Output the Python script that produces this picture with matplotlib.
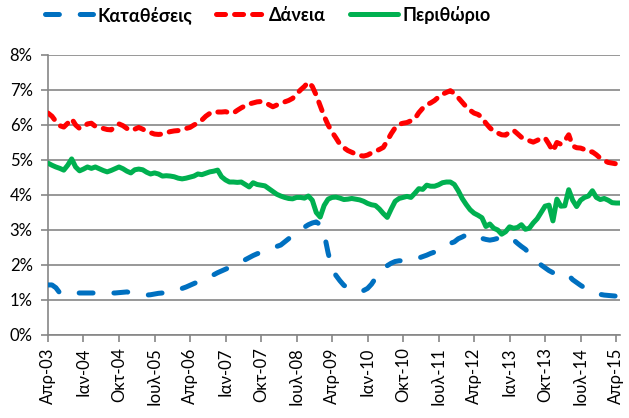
import matplotlib
matplotlib.use('Agg')
import matplotlib.pyplot as plt
import numpy as np

plt.rcParams['font.family'] = ['Lato', 'DejaVu Sans']
plt.rcParams['lines.scale_dashes'] = False

# monthly values, Apr-03 .. May-15 (%)
deposits = [
    1.43, 1.43, 1.35, 1.20, 1.19, 1.19, 1.20, 1.20, 1.20, 1.20,
    1.20, 1.20, 1.20, 1.20, 1.20, 1.20, 1.20, 1.20, 1.21, 1.22,
    1.23, 1.21, 1.19, 1.17, 1.15, 1.14, 1.15, 1.17, 1.19, 1.20,
    1.21, 1.24, 1.27, 1.30, 1.33, 1.37, 1.42, 1.47, 1.52, 1.57,
    1.60, 1.65, 1.72, 1.78, 1.83, 1.88, 1.93, 1.98, 2.03, 2.09,
    2.15, 2.21, 2.27, 2.32, 2.36, 2.40, 2.44, 2.48, 2.53, 2.57,
    2.66, 2.75, 2.85, 2.93, 3.00, 3.08, 3.15, 3.20, 3.23, 3.15,
    2.90, 2.35, 1.90, 1.70, 1.55, 1.42, 1.35, 1.30, 1.26, 1.23,
    1.27, 1.33, 1.45, 1.62, 1.78, 1.88, 1.98, 2.05, 2.10, 2.12,
    2.12, 2.14, 2.15, 2.17, 2.20, 2.24, 2.28, 2.33, 2.37, 2.42,
    2.48, 2.55, 2.62, 2.66, 2.75, 2.80, 2.86, 2.90, 2.88, 2.82,
    2.76, 2.73, 2.71, 2.73, 2.76, 2.79, 2.83, 2.80, 2.72, 2.62,
    2.53, 2.45, 2.33, 2.22, 2.10, 2.00, 1.92, 1.84, 1.78, 1.74,
    1.76, 1.77, 1.70, 1.58, 1.50, 1.42, 1.35, 1.28, 1.23, 1.19,
    1.16, 1.14, 1.13, 1.12, 1.11, 1.11,
]
loans = [
    6.34, 6.25, 6.10, 5.98, 5.94, 6.05, 6.18, 6.00, 5.90, 5.95,
    6.03, 6.05, 5.96, 5.93, 5.90, 5.87, 5.86, 5.95, 6.03, 5.98,
    5.90, 5.84, 5.88, 5.93, 5.88, 5.82, 5.78, 5.74, 5.73, 5.74,
    5.78, 5.81, 5.83, 5.84, 5.88, 5.90, 5.93, 6.00, 6.06, 6.14,
    6.25, 6.33, 6.38, 6.37, 6.37, 6.38, 6.35, 6.34, 6.42, 6.49,
    6.55, 6.60, 6.63, 6.66, 6.67, 6.64, 6.58, 6.52, 6.57, 6.62,
    6.66, 6.70, 6.76, 6.88, 7.00, 7.10, 7.23, 7.10, 6.85, 6.55,
    6.25, 6.00, 5.80, 5.63, 5.45, 5.35, 5.27, 5.22, 5.17, 5.13,
    5.11, 5.14, 5.20, 5.25, 5.30, 5.36, 5.55, 5.75, 5.92, 6.02,
    6.05, 6.07, 6.12, 6.18, 6.35, 6.48, 6.58, 6.63, 6.70, 6.80,
    6.88, 6.93, 6.98, 6.90, 6.78, 6.65, 6.52, 6.42, 6.34, 6.30,
    6.22, 6.05, 5.92, 5.82, 5.77, 5.72, 5.71, 5.80, 5.85, 5.75,
    5.65, 5.60, 5.55, 5.51, 5.56, 5.62, 5.63, 5.45, 5.25, 5.50,
    5.45, 5.55, 5.72, 5.40, 5.35, 5.34, 5.30, 5.24, 5.23, 5.15,
    5.05, 4.98, 4.93, 4.91, 4.89, 4.89,
]
margin = [
    4.91, 4.85, 4.80, 4.76, 4.71, 4.85, 5.03, 4.80, 4.69, 4.74,
    4.80, 4.76, 4.80, 4.75, 4.70, 4.66, 4.70, 4.75, 4.80, 4.75,
    4.68, 4.63, 4.72, 4.74, 4.72, 4.65, 4.60, 4.63, 4.60, 4.54,
    4.55, 4.54, 4.52, 4.48, 4.46, 4.48, 4.51, 4.54, 4.60, 4.58,
    4.62, 4.66, 4.68, 4.71, 4.52, 4.43, 4.37, 4.37, 4.36, 4.37,
    4.30, 4.23, 4.35, 4.30, 4.28, 4.26, 4.18, 4.10, 4.02, 3.97,
    3.93, 3.90, 3.89, 3.93, 3.93, 3.91, 3.97, 3.85, 3.50, 3.37,
    3.70, 3.88, 3.93, 3.94, 3.91, 3.87, 3.88, 3.90, 3.88, 3.86,
    3.82, 3.76, 3.72, 3.70, 3.60, 3.47, 3.36, 3.60, 3.82, 3.90,
    3.93, 3.96, 3.93, 4.05, 4.18, 4.16, 4.28, 4.25, 4.25, 4.29,
    4.35, 4.37, 4.37, 4.30, 4.12, 3.90, 3.73, 3.58, 3.48, 3.42,
    3.35, 3.10, 3.17, 3.05, 3.00, 2.88, 2.95, 3.09, 3.05, 3.07,
    3.15, 3.02, 3.05, 3.20, 3.32, 3.50, 3.68, 3.71, 3.26, 3.88,
    3.68, 3.69, 4.15, 3.85, 3.67, 3.85, 3.93, 3.97, 4.12, 3.93,
    3.87, 3.90, 3.85, 3.78, 3.77, 3.77,
]
tick_labels = ['Απρ-03', 'Ιαν-04', 'Οκτ-04', 'Ιουλ-05', 'Απρ-06', 'Ιαν-07',
               'Οκτ-07', 'Ιουλ-08', 'Απρ-09', 'Ιαν-10', 'Οκτ-10', 'Ιουλ-11',
               'Απρ-12', 'Ιαν-13', 'Οκτ-13', 'Ιουλ-14', 'Απρ-15']

months = np.arange(len(deposits))

fig = plt.figure(figsize=(6.29, 4.18), dpi=100)
ax = fig.add_axes([0.0763, 0.1986, 0.9094, 0.6699])

lw = 3.6
ax.plot(months, deposits, color='#0070C0', lw=lw, dashes=(10, 15),
        dash_capstyle='round', label='Καταθέσεις', zorder=3)
ax.plot(months, loans, color='#FF0000', lw=lw, dashes=(6.5, 6.5),
        dash_capstyle='round', label='Δάνεια', zorder=3)
ax.plot(months, margin, color='#00B050', lw=lw, solid_capstyle='round',
        solid_joinstyle='round', label='Περιθώριο', zorder=3)

ax.set_ylim(0, 8)
ax.set_yticks(range(0, 9))
ax.set_yticklabels([f'{v}%' for v in range(0, 9)])
ax.set_xlim(0, 145)
ax.set_xticks(np.arange(0, 145, 9))
ax.set_xticklabels(tick_labels, rotation=90)

ax.grid(axis='y', color='#868686', lw=1.2)
ax.set_axisbelow(True)
for s in ['top', 'right']:
    ax.spines[s].set_visible(False)
for s in ['left', 'bottom']:
    ax.spines[s].set_color('#868686')
    ax.spines[s].set_linewidth(1.2)
ax.tick_params(axis='both', colors='#868686', length=5, width=1.2,
               labelsize=12, labelcolor='black')
ax.tick_params(axis='y', pad=6)
ax.tick_params(axis='x', pad=4)

leg = fig.legend(loc='upper left', bbox_to_anchor=(0.045, 1.025), ncol=3,
                 frameon=False, handlelength=2.7, columnspacing=1.3,
                 handletextpad=0.25, prop={'size': 13, 'weight': 'bold'})

fig.savefig('out.png', dpi=100)
